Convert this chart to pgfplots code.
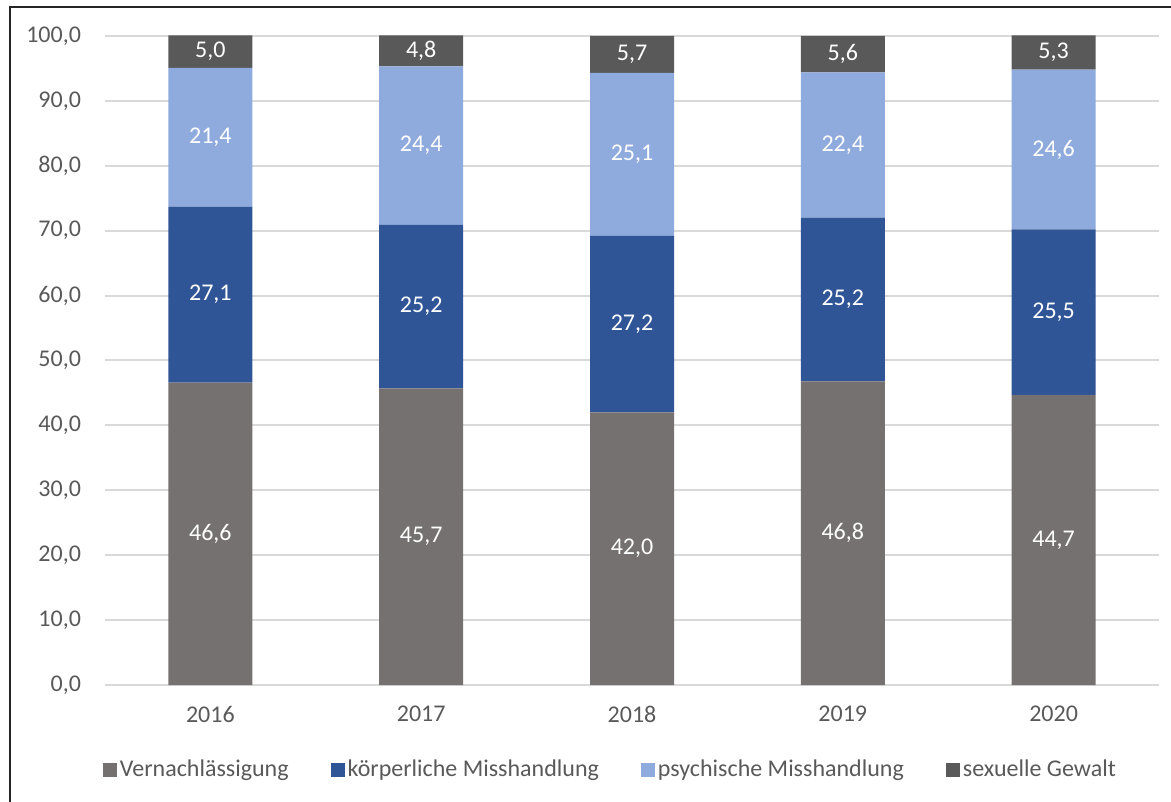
\documentclass[border=0pt]{standalone}
\usepackage{fontspec}
\setmainfont{Carlito}
\usepackage{pgfplots}
\pgfplotsset{compat=1.18}
\usepackage{pgfplotstable}
\definecolor{cVer}{HTML}{767171}
\definecolor{cKoe}{HTML}{2F5597}
\definecolor{cPsy}{HTML}{8FAADC}
\definecolor{cSex}{HTML}{595959}
\definecolor{cTxt}{HTML}{595959}
\definecolor{cGrid}{HTML}{D9D9D9}
\pgfplotstableread{
x ver koe psy sex
0 46.6 27.1 21.4 5.0
1 45.7 25.2 24.4 4.8
2 42.0 27.2 25.1 5.7
3 46.8 25.2 22.4 5.6
4 44.7 25.5 24.6 5.3
}\data
\begin{document}
\begin{tikzpicture}
\begin{axis}[
  at={(52.5pt,58.5pt)}, anchor=south west,
  scale only axis, width=527pt, height=324.5pt,
  ybar stacked, bar width=42pt,
  xmin=-0.5, xmax=4.5, ymin=0, ymax=100,
  clip=false,
  xtick=data, xticklabels={2016,2017,2018,2019,2020},
  ytick={0,10,...,100},
  ymajorgrids, grid style={cGrid, line width=1pt},
  axis line style={draw=none}, major tick length=0pt,
  tick label style={font=\fontsize{12}{14}\selectfont, text=cTxt},
  /pgf/number format/assume math mode=true,
  yticklabel style={/pgf/number format/fixed, /pgf/number format/fixed zerofill, /pgf/number format/precision=1, /pgf/number format/use comma, xshift=-8.5pt},
  xticklabel style={yshift=-7pt},
  nodes near coords={\pgfmathprintnumber[fixed, fixed zerofill, precision=1, use comma, assume math mode=true]{\pgfplotspointmeta}},
  point meta=rawy,
  every node near coord/.append style={anchor=center, text=white, font=\fontsize{12}{14}\selectfont},
  legend columns=4,
  legend style={at={(0.48,-0.131)}, anchor=center, draw=none, fill=none,
    font=\fontsize{12}{14}\selectfont, text=cTxt,
    /tikz/every even column/.append style={column sep=19.5pt},
    nodes={inner xsep=1.5pt}},
  legend image code/.code={\fill[#1, draw=none] (0pt,-3.5pt) rectangle (7pt,3.5pt);},
]
\addplot[fill=cVer, draw=none] table[x=x, y=ver] {\data};
\addplot[fill=cKoe, draw=none] table[x=x, y=koe] {\data};
\addplot[fill=cPsy, draw=none] table[x=x, y=psy] {\data};
\addplot[fill=cSex, draw=none] table[x=x, y=sex] {\data};
\legend{Vernachlässigung, körperliche Misshandlung, psychische Misshandlung, sexuelle Gewalt}
\end{axis}
\draw[line width=1.2pt, black!85] (5pt,-20pt) -- (5pt,397.5pt) -- (620pt,397.5pt);
\pgfresetboundingbox
\useasboundingbox (0,0) rectangle (585.5pt,401pt);
\end{tikzpicture}
\end{document}
